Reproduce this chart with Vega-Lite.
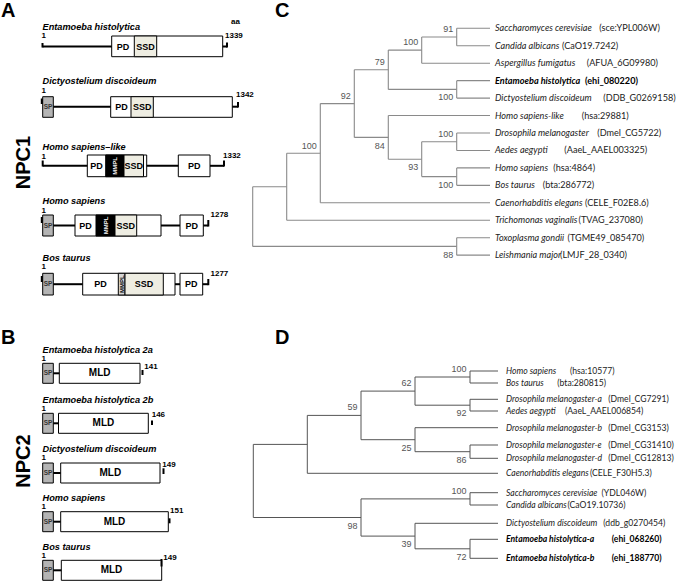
{
"$schema":"https://vega.github.io/schema/vega-lite/v6.json",
"width":687,"height":585,"autosize":{"type":"none"},"padding":0,"background":"#ffffff",
"config":{"view":{"stroke":null}},
"datasets":{
"seg":[
{"k":"p","x":42.5,"x2":111.7,"y":46.5,"y2":46.5},{"k":"p","x":42.5,"x2":42.5,"y":43,"y2":47.5},{"k":"p","x":222.7,"x2":227,"y":46.5,"y2":46.5},{"k":"p","x":227,"x2":227,"y":42.5,"y2":47.5},
{"k":"p","x":41.8,"x2":41.8,"y":98.5,"y2":104},{"k":"p","x":53.3,"x2":110.7,"y":106.7,"y2":106.7},{"k":"p","x":232.3,"x2":238,"y":106.7,"y2":106.7},{"k":"p","x":238,"x2":238,"y":102,"y2":107.5},
{"k":"p","x":42.7,"x2":42.7,"y":160.5,"y2":166.5},{"k":"p","x":42.7,"x2":87.3,"y":165.8,"y2":165.8},{"k":"p","x":146.7,"x2":178.3,"y":165.8,"y2":165.8},{"k":"p","x":210,"x2":224,"y":165.8,"y2":165.8},{"k":"p","x":224,"x2":224,"y":160.5,"y2":166.5},
{"k":"p","x":41.8,"x2":41.8,"y":217,"y2":223},{"k":"p","x":53.3,"x2":75,"y":225.5,"y2":225.5},{"k":"p","x":161,"x2":180,"y":225.5,"y2":225.5},{"k":"p","x":203.3,"x2":208.3,"y":225.5,"y2":225.5},{"k":"p","x":208.3,"x2":208.3,"y":220,"y2":226.5},
{"k":"p","x":41.8,"x2":41.8,"y":276,"y2":282},{"k":"p","x":53.3,"x2":82.7,"y":284.2,"y2":284.2},{"k":"p","x":175,"x2":180,"y":284.2,"y2":284.2},{"k":"p","x":202.7,"x2":208.3,"y":284.2,"y2":284.2},{"k":"p","x":208.3,"x2":208.3,"y":279,"y2":285.2},
{"k":"p","x":53.3,"x2":59.3,"y":373.3,"y2":373.3},{"k":"p","x":142.5,"x2":142.5,"y":370,"y2":375},
{"k":"p","x":53.3,"x2":58.5,"y":423.3,"y2":423.3},{"k":"p","x":152,"x2":152,"y":420.5,"y2":425},
{"k":"p","x":53.3,"x2":60.7,"y":473,"y2":473},{"k":"p","x":163.5,"x2":163.5,"y":468.3,"y2":474},
{"k":"p","x":53.3,"x2":60.7,"y":521.7,"y2":521.7},{"k":"p","x":169.5,"x2":169.5,"y":518.3,"y2":523.3},
{"k":"p","x":53.3,"x2":61.3,"y":570.3,"y2":570.3},{"k":"p","x":161.5,"x2":161.5,"y":559,"y2":566.5},
{"k":"c","x":456.7,"x2":456.7,"y":28.3,"y2":45.75},{"k":"c","x":421.7,"x2":421.7,"y":37.0,"y2":63.2},{"k":"c","x":456.7,"x2":456.7,"y":80.65,"y2":98.1},{"k":"c","x":388.3,"x2":388.3,"y":50.1,"y2":89.4},
{"k":"c","x":456.7,"x2":456.7,"y":133,"y2":150.45},{"k":"c","x":456.7,"x2":456.7,"y":167.9,"y2":185.35},{"k":"c","x":421.7,"x2":421.7,"y":141.7,"y2":176.6},{"k":"c","x":388.3,"x2":388.3,"y":115.55,"y2":159.2},
{"k":"c","x":354.3,"x2":354.3,"y":69.75,"y2":137.4},{"k":"c","x":320.3,"x2":320.3,"y":103.6,"y2":202.8},{"k":"c","x":286.7,"x2":286.7,"y":153.2,"y2":220.25},{"k":"c","x":456.7,"x2":456.7,"y":237.7,"y2":255.15},{"k":"c","x":252.7,"x2":252.7,"y":186.7,"y2":246.4},
{"k":"c","x":456.7,"x2":490,"y":28.3,"y2":28.3},{"k":"c","x":456.7,"x2":490,"y":45.75,"y2":45.75},{"k":"c","x":421.7,"x2":456.7,"y":37.0,"y2":37.0},{"k":"c","x":421.7,"x2":490,"y":63.2,"y2":63.2},
{"k":"c","x":456.7,"x2":490,"y":80.65,"y2":80.65},{"k":"c","x":456.7,"x2":490,"y":98.1,"y2":98.1},{"k":"c","x":388.3,"x2":421.7,"y":50.1,"y2":50.1},{"k":"c","x":388.3,"x2":456.7,"y":89.4,"y2":89.4},
{"k":"c","x":354.3,"x2":388.3,"y":69.75,"y2":69.75},{"k":"c","x":456.7,"x2":490,"y":133,"y2":133},{"k":"c","x":456.7,"x2":490,"y":150.45,"y2":150.45},{"k":"c","x":456.7,"x2":490,"y":167.9,"y2":167.9},
{"k":"c","x":456.7,"x2":490,"y":185.35,"y2":185.35},{"k":"c","x":421.7,"x2":456.7,"y":141.7,"y2":141.7},{"k":"c","x":421.7,"x2":456.7,"y":176.6,"y2":176.6},{"k":"c","x":388.3,"x2":490,"y":115.55,"y2":115.55},
{"k":"c","x":388.3,"x2":421.7,"y":159.2,"y2":159.2},{"k":"c","x":354.3,"x2":388.3,"y":137.4,"y2":137.4},{"k":"c","x":320.3,"x2":354.3,"y":103.6,"y2":103.6},{"k":"c","x":320.3,"x2":490,"y":202.8,"y2":202.8},
{"k":"c","x":286.7,"x2":320.3,"y":153.2,"y2":153.2},{"k":"c","x":286.7,"x2":490,"y":220.25,"y2":220.25},{"k":"c","x":252.7,"x2":286.7,"y":186.7,"y2":186.7},{"k":"c","x":252.7,"x2":456.7,"y":246.4,"y2":246.4},
{"k":"c","x":456.7,"x2":490,"y":237.7,"y2":237.7},{"k":"c","x":456.7,"x2":490,"y":255.15,"y2":255.15},
{"k":"d","x":470,"x2":470,"y":371,"y2":383},{"k":"d","x":470,"x2":470,"y":399.3,"y2":411},{"k":"d","x":415,"x2":415,"y":377,"y2":405.2},{"k":"d","x":470,"x2":470,"y":445,"y2":458.3},
{"k":"d","x":415,"x2":415,"y":427.7,"y2":451.7},{"k":"d","x":361,"x2":361,"y":391.1,"y2":439.7},{"k":"d","x":307.3,"x2":307.3,"y":415.4,"y2":473.3},{"k":"d","x":470,"x2":470,"y":492.7,"y2":505},
{"k":"d","x":470,"x2":470,"y":539.3,"y2":558.3},{"k":"d","x":415,"x2":415,"y":523.3,"y2":548.8},{"k":"d","x":361,"x2":361,"y":498.9,"y2":536.1},{"k":"d","x":253.3,"x2":253.3,"y":444.4,"y2":517.5},
{"k":"d","x":470,"x2":498,"y":371,"y2":371},{"k":"d","x":470,"x2":498,"y":383,"y2":383},{"k":"d","x":470,"x2":498,"y":399.3,"y2":399.3},{"k":"d","x":470,"x2":498,"y":411,"y2":411},
{"k":"d","x":415,"x2":470,"y":377,"y2":377},{"k":"d","x":415,"x2":470,"y":405.2,"y2":405.2},{"k":"d","x":361,"x2":415,"y":391.1,"y2":391.1},{"k":"d","x":415,"x2":498,"y":427.7,"y2":427.7},
{"k":"d","x":470,"x2":498,"y":445,"y2":445},{"k":"d","x":470,"x2":498,"y":458.3,"y2":458.3},{"k":"d","x":415,"x2":470,"y":451.7,"y2":451.7},{"k":"d","x":361,"x2":415,"y":439.7,"y2":439.7},
{"k":"d","x":307.3,"x2":361,"y":415.4,"y2":415.4},{"k":"d","x":307.3,"x2":498,"y":473.3,"y2":473.3},{"k":"d","x":253.3,"x2":307.3,"y":444.4,"y2":444.4},{"k":"d","x":470,"x2":498,"y":492.7,"y2":492.7},
{"k":"d","x":470,"x2":498,"y":505,"y2":505},{"k":"d","x":361,"x2":470,"y":498.9,"y2":498.9},{"k":"d","x":415,"x2":498,"y":523.3,"y2":523.3},{"k":"d","x":470,"x2":498,"y":539.3,"y2":539.3},
{"k":"d","x":470,"x2":498,"y":558.3,"y2":558.3},{"k":"d","x":415,"x2":470,"y":548.8,"y2":548.8},{"k":"d","x":361,"x2":415,"y":536.1,"y2":536.1},{"k":"d","x":253.3,"x2":361,"y":517.5,"y2":517.5}
],
"box":[
{"k":"w","x":111.7,"x2":222.7,"y":36,"y2":56.7},{"k":"ssd","x":134.3,"x2":156.7,"y":36,"y2":56.7},
{"k":"sp","x":42.7,"x2":53.3,"y":96.7,"y2":117.3},{"k":"w","x":110.7,"x2":232.3,"y":96.7,"y2":117.3},{"k":"ssd","x":131,"x2":153.3,"y":96.7,"y2":117.3},
{"k":"w","x":87.3,"x2":146.7,"y":155,"y2":176.7},{"k":"mm","x":105.7,"x2":124,"y":155,"y2":176.7},{"k":"ssd","x":124,"x2":143.5,"y":155,"y2":176.7},{"k":"w","x":178.3,"x2":210,"y":155,"y2":176.7},
{"k":"sp","x":42.7,"x2":53.3,"y":215,"y2":236},{"k":"w","x":75,"x2":161,"y":215,"y2":236},{"k":"mm","x":96,"x2":115,"y":215,"y2":236},{"k":"ssd","x":115,"x2":136.7,"y":215,"y2":236},{"k":"w","x":180,"x2":203.3,"y":215,"y2":236},
{"k":"sp","x":42.7,"x2":53.3,"y":273.3,"y2":295},{"k":"w","x":82.7,"x2":175,"y":273.3,"y2":295},{"k":"mh","x":118.3,"x2":125,"y":273.3,"y2":295},{"k":"ssd","x":125,"x2":163.3,"y":273.3,"y2":295},{"k":"w","x":180,"x2":202.7,"y":273.3,"y2":295},
{"k":"sp","x":42.7,"x2":53.3,"y":363.3,"y2":383.3},{"k":"w","x":59.3,"x2":140,"y":363.3,"y2":383.3},
{"k":"sp","x":42.7,"x2":53.3,"y":413.3,"y2":433.3},{"k":"w","x":58.5,"x2":148.3,"y":413.3,"y2":433.3},
{"k":"sp","x":42.7,"x2":53.3,"y":463,"y2":483},{"k":"w","x":60.7,"x2":160,"y":463,"y2":483},
{"k":"sp","x":42.7,"x2":53.3,"y":511.7,"y2":531.7},{"k":"w","x":60.7,"x2":168.3,"y":511.7,"y2":531.7},
{"k":"sp","x":42.7,"x2":53.3,"y":560.3,"y2":580.3},{"k":"w","x":61.3,"x2":161.7,"y":560.3,"y2":580.3}
],
"txt":[
{"k":"L","t":"A","x":1,"y":17.2},{"k":"L","t":"B","x":1,"y":343.5},{"k":"L","t":"C","x":275,"y":17.2},{"k":"L","t":"D","x":275,"y":344},
{"k":"N","t":"NPC1","x":24,"y":162.5},{"k":"N","t":"NPC2","x":24,"y":461},
{"k":"T","t":"Entamoeba  histolytica","x":42.5,"y":26.7},{"k":"T","t":"Dictyostelium  discoideum","x":42.5,"y":81.2},{"k":"T","t":"Homo sapiens–like","x":42.5,"y":146.7},{"k":"T","t":"Homo sapiens","x":42.5,"y":201},{"k":"T","t":"Bos taurus","x":42.5,"y":258},
{"k":"T","t":"Entamoeba  histolytica  2a","x":42.5,"y":349.8},{"k":"T","t":"Entamoeba  histolytica  2b","x":42.5,"y":399.6},{"k":"T","t":"Dictyostelium  discoideum","x":42.5,"y":449.2},{"k":"T","t":"Homo sapiens","x":42.5,"y":498},{"k":"T","t":"Bos taurus","x":42.5,"y":546.7},
{"k":"n","t":"aa","x":231,"y":21.7},{"k":"n","t":"1","x":41.5,"y":36},{"k":"n","t":"1339","x":225,"y":36},{"k":"n","t":"1","x":41.5,"y":90.8},{"k":"n","t":"1342","x":236,"y":95},
{"k":"n","t":"1","x":41.5,"y":156.7},{"k":"n","t":"1332","x":223,"y":156},{"k":"n","t":"1","x":41.5,"y":210.6},{"k":"n","t":"1278","x":210.5,"y":215},{"k":"n","t":"1","x":41.5,"y":267},{"k":"n","t":"1277","x":210.5,"y":274},
{"k":"n","t":"1","x":41.5,"y":358.8},{"k":"n","t":"141","x":144.3,"y":366.7},{"k":"n","t":"1","x":41.5,"y":408.8},{"k":"n","t":"146","x":151.7,"y":415},{"k":"n","t":"1","x":41.5,"y":458.4},{"k":"n","t":"149","x":162.3,"y":465},
{"k":"n","t":"1","x":41.5,"y":507.2},{"k":"n","t":"151","x":170,"y":510.7},{"k":"n","t":"1","x":41.5,"y":555.8},{"k":"n","t":"149","x":163.3,"y":558.3},
{"k":"d","t":"PD","x":123,"y":46.5},{"k":"d","t":"SSD","x":145.5,"y":46.5},{"k":"d","t":"PD","x":121.5,"y":106.7},{"k":"d","t":"SSD","x":142.2,"y":106.7},
{"k":"d","t":"PD","x":96.5,"y":165.8},{"k":"d","t":"SSD","x":133.8,"y":165.8},{"k":"d","t":"PD","x":194.2,"y":165.8},
{"k":"d","t":"PD","x":85.5,"y":225.5},{"k":"d","t":"SSD","x":125.8,"y":225.5},{"k":"d","t":"PD","x":191.7,"y":225.5},
{"k":"d","t":"PD","x":100.5,"y":284.2},{"k":"d","t":"SSD","x":144,"y":284.2},{"k":"d","t":"PD","x":191.3,"y":284.2},
{"k":"M","t":"MLD","x":99.7,"y":373.3},{"k":"M","t":"MLD","x":103.4,"y":423.3},{"k":"M","t":"MLD","x":110.3,"y":473},{"k":"M","t":"MLD","x":114.5,"y":521.7},{"k":"M","t":"MLD","x":111.5,"y":570.3},
{"k":"s","t":"SP","x":48,"y":106.7},{"k":"s","t":"SP","x":48,"y":225.5},{"k":"s","t":"SP","x":48,"y":284.2},{"k":"s","t":"SP","x":48,"y":373.3},{"k":"s","t":"SP","x":48,"y":423.3},{"k":"s","t":"SP","x":48,"y":473},{"k":"s","t":"SP","x":48,"y":521.7},{"k":"s","t":"SP","x":48,"y":570.3},
{"k":"mw","t":"MMPL","x":115,"y":165.8},{"k":"mw","t":"MMPL","x":105.5,"y":225.5},{"k":"mb","t":"MMPL","x":121.7,"y":284.2},
{"k":"bc","t":"91","x":453.2,"y":28.7},{"k":"bc","t":"100","x":418.2,"y":42},{"k":"bc","t":"79","x":384.8,"y":61.7},{"k":"bc","t":"100","x":453.2,"y":97.4},{"k":"bc","t":"92","x":350.8,"y":95.6},{"k":"bc","t":"100","x":316.8,"y":145.5},
{"k":"bc","t":"84","x":384.8,"y":145.5},{"k":"bc","t":"100","x":453.2,"y":133.7},{"k":"bc","t":"93","x":418.2,"y":167},{"k":"bc","t":"100","x":453.2,"y":184.5},{"k":"bc","t":"88","x":453.2,"y":254.5},
{"k":"bd","t":"100","x":466.5,"y":369},{"k":"bd","t":"62","x":411.5,"y":383.1},{"k":"bd","t":"92","x":466.5,"y":413.2},{"k":"bd","t":"59","x":357.5,"y":407.4},{"k":"bd","t":"25","x":411.5,"y":447.7},
{"k":"bd","t":"86","x":466.5,"y":459.7},{"k":"bd","t":"100","x":466.5,"y":490.9},{"k":"bd","t":"98","x":357.5,"y":525.5},{"k":"bd","t":"39","x":411.5,"y":544.1},{"k":"bd","t":"72","x":466.5,"y":556.8},
{"k":"si","t":"Saccharomyces cerevisiae","x":495,"y":28.3},{"k":"id","t":"(sce:YPL006W)","x":599.3,"y":28.3},
{"k":"si","t":"Candida albicans","x":495,"y":45.75},{"k":"id","t":"(CaO19.7242)","x":562,"y":45.75},
{"k":"si","t":"Aspergillus fumigatus","x":495,"y":63.2},{"k":"id","t":"(AFUA_6G09980)","x":586.7,"y":63.2},
{"k":"sb","t":"Entamoeba histolytica","x":495,"y":80.65},{"k":"ib","t":"(ehi_080220)","x":585,"y":80.65},
{"k":"si","t":"Dictyostelium discoideum","x":495,"y":98.1},{"k":"id","t":"(DDB_G0269158)","x":603.3,"y":98.1},
{"k":"si","t":"Homo sapiens-like","x":495,"y":115.55},{"k":"id","t":"(hsa:29881)","x":581.7,"y":115.55},
{"k":"si","t":"Drosophila melanogaster","x":495,"y":133},{"k":"id","t":"(Dmel_CG5722)","x":597.3,"y":133},
{"k":"si","t":"Aedes aegypti","x":495,"y":150.45},{"k":"id","t":"(AaeL_AAEL003325)","x":564.3,"y":150.45},
{"k":"si","t":"Homo sapiens","x":495,"y":167.9},{"k":"id","t":"(hsa:4864)","x":553.3,"y":167.9},
{"k":"si","t":"Bos taurus","x":495,"y":185.35},{"k":"id","t":"(bta:286772)","x":542.7,"y":185.35},
{"k":"si","t":"Caenorhabditis elegans","x":495,"y":202.8},{"k":"id","t":"(CELE_F02E8.6)","x":585,"y":202.8},
{"k":"si","t":"Trichomonas vaginalis","x":495,"y":220.25},{"k":"id","t":"(TVAG_237080)","x":578.5,"y":220.25},
{"k":"si","t":"Toxoplasma gondii","x":495,"y":237.7},{"k":"id","t":"(TGME49_085470)","x":567.5,"y":237.7},
{"k":"si","t":"Leishmania major","x":495,"y":255.15},{"k":"id","t":"(LMJF_28_0340)","x":560,"y":255.15},
{"k":"si2","t":"Homo sapiens","x":506,"y":371},{"k":"id2","t":"(hsa:10577)","x":570,"y":371},
{"k":"si2","t":"Bos taurus","x":506,"y":383},{"k":"id2","t":"(bta:280815)","x":557.3,"y":383},
{"k":"si2","t":"Drosophila melanogaster-a","x":506,"y":399.3},{"k":"id2","t":"(Dmel_CG7291)","x":608.3,"y":399.3},
{"k":"si2","t":"Aedes aegypti","x":506,"y":411},{"k":"id2","t":"(AaeL_AAEL006854)","x":565,"y":411},
{"k":"si2","t":"Drosophila melanogaster-b","x":506,"y":427.7},{"k":"id2","t":"(Dmel_CG3153)","x":608.3,"y":427.7},
{"k":"si2","t":"Drosophila melanogaster-e","x":506,"y":445},{"k":"id2","t":"(Dmel_CG31410)","x":608.3,"y":445},
{"k":"si2","t":"Drosophila melanogaster-d","x":506,"y":458.3},{"k":"id2","t":"(Dmel_CG12813)","x":608.3,"y":458.3},
{"k":"si2","t":"Caenorhabditis elegans","x":506,"y":473.3},{"k":"id2","t":"(CELE_F30H5.3)","x":590,"y":473.3},
{"k":"si2","t":"Saccharomyces cerevisiae","x":506,"y":492.7},{"k":"id2","t":"(YDL046W)","x":601.5,"y":492.7},
{"k":"si2","t":"Candida albicans","x":506,"y":505},{"k":"id2","t":"(CaO19.10736)","x":567.5,"y":505},
{"k":"si2","t":"Dictyostelium discoideum","x":506,"y":523.3},{"k":"id2","t":"(ddb_g0270454)","x":603.3,"y":523.3},
{"k":"sb2","t":"Entamoeba histolytica-a","x":506,"y":539.3},{"k":"ib2","t":"(ehi_068260)","x":611.7,"y":539.3},
{"k":"sb2","t":"Entamoeba histolytica-b","x":506,"y":558.3},{"k":"ib2","t":"(ehi_188770)","x":611.7,"y":558.3}
]
},
"layer":[
{"data":{"name":"box"},"mark":{"type":"rect","stroke":"#000000","strokeWidth":1},
 "encoding":{"x":{"field":"x","type":"quantitative","scale":{"domain":[0,687],"nice":false,"zero":false},"axis":null},"x2":{"field":"x2"},
 "y":{"field":"y","type":"quantitative","scale":{"domain":[0,585],"reverse":true,"nice":false,"zero":false},"axis":null},"y2":{"field":"y2"},
 "fill":{"field":"k","type":"nominal","scale":{"domain":["w","ssd","sp","mm","mh"],"range":["#ffffff","#eeede2","#b4b4b4","#000000","#d6d6d6"]},"legend":null}}},
{"data":{"name":"seg"},"transform":[{"filter":"datum.k==='p'"}],"mark":{"type":"rule","color":"#000000","strokeWidth":2},
 "encoding":{"x":{"field":"x","type":"quantitative","scale":{"domain":[0,687],"nice":false,"zero":false},"axis":null},"x2":{"field":"x2"},"y":{"field":"y","type":"quantitative","scale":{"domain":[0,585],"reverse":true,"nice":false,"zero":false},"axis":null},"y2":{"field":"y2"}}},
{"data":{"name":"seg"},"transform":[{"filter":"datum.k==='c'"}],"mark":{"type":"rule","color":"#8a8a8a","strokeWidth":1.1},
 "encoding":{"x":{"field":"x","type":"quantitative","scale":{"domain":[0,687],"nice":false,"zero":false},"axis":null},"x2":{"field":"x2"},"y":{"field":"y","type":"quantitative","scale":{"domain":[0,585],"reverse":true,"nice":false,"zero":false},"axis":null},"y2":{"field":"y2"}}},
{"data":{"name":"seg"},"transform":[{"filter":"datum.k==='d'"}],"mark":{"type":"rule","color":"#555555","strokeWidth":1},
 "encoding":{"x":{"field":"x","type":"quantitative","scale":{"domain":[0,687],"nice":false,"zero":false},"axis":null},"x2":{"field":"x2"},"y":{"field":"y","type":"quantitative","scale":{"domain":[0,585],"reverse":true,"nice":false,"zero":false},"axis":null},"y2":{"field":"y2"}}},
{"data":{"name":"txt"},"transform":[{"filter":"datum.k==='L'"}],"mark":{"type":"text","font":"Liberation Sans","fontWeight":"bold","fontSize":20,"align":"left","baseline":"alphabetic","color":"#000000"},
 "encoding":{"x":{"field":"x","type":"quantitative","scale":{"domain":[0,687],"nice":false,"zero":false},"axis":null},"y":{"field":"y","type":"quantitative","scale":{"domain":[0,585],"reverse":true,"nice":false,"zero":false},"axis":null},"text":{"field":"t"}}},
{"data":{"name":"txt"},"transform":[{"filter":"datum.k==='N'"}],"mark":{"type":"text","font":"Liberation Sans","fontWeight":"bold","fontSize":20,"angle":270,"align":"center","baseline":"middle","color":"#000000"},
 "encoding":{"x":{"field":"x","type":"quantitative","scale":{"domain":[0,687],"nice":false,"zero":false},"axis":null},"y":{"field":"y","type":"quantitative","scale":{"domain":[0,585],"reverse":true,"nice":false,"zero":false},"axis":null},"text":{"field":"t"}}},
{"data":{"name":"txt"},"transform":[{"filter":"datum.k==='T'"}],"mark":{"type":"text","font":"Liberation Sans","fontWeight":"bold","fontStyle":"italic","fontSize":9.2,"align":"left","baseline":"middle","color":"#000000"},
 "encoding":{"x":{"field":"x","type":"quantitative","scale":{"domain":[0,687],"nice":false,"zero":false},"axis":null},"y":{"field":"y","type":"quantitative","scale":{"domain":[0,585],"reverse":true,"nice":false,"zero":false},"axis":null},"text":{"field":"t"}}},
{"data":{"name":"txt"},"transform":[{"filter":"datum.k==='n'"}],"mark":{"type":"text","font":"Liberation Sans","fontWeight":"bold","fontSize":8,"align":"left","baseline":"middle","color":"#000000"},
 "encoding":{"x":{"field":"x","type":"quantitative","scale":{"domain":[0,687],"nice":false,"zero":false},"axis":null},"y":{"field":"y","type":"quantitative","scale":{"domain":[0,585],"reverse":true,"nice":false,"zero":false},"axis":null},"text":{"field":"t"}}},
{"data":{"name":"txt"},"transform":[{"filter":"datum.k==='d'"}],"mark":{"type":"text","font":"Liberation Sans","fontWeight":"bold","fontSize":9,"align":"center","baseline":"middle","color":"#000000"},
 "encoding":{"x":{"field":"x","type":"quantitative","scale":{"domain":[0,687],"nice":false,"zero":false},"axis":null},"y":{"field":"y","type":"quantitative","scale":{"domain":[0,585],"reverse":true,"nice":false,"zero":false},"axis":null},"text":{"field":"t"}}},
{"data":{"name":"txt"},"transform":[{"filter":"datum.k==='M'"}],"mark":{"type":"text","font":"Liberation Sans","fontWeight":"bold","fontSize":10,"align":"center","baseline":"middle","color":"#000000"},
 "encoding":{"x":{"field":"x","type":"quantitative","scale":{"domain":[0,687],"nice":false,"zero":false},"axis":null},"y":{"field":"y","type":"quantitative","scale":{"domain":[0,585],"reverse":true,"nice":false,"zero":false},"axis":null},"text":{"field":"t"}}},
{"data":{"name":"txt"},"transform":[{"filter":"datum.k==='s'"}],"mark":{"type":"text","font":"Liberation Sans","fontWeight":"bold","fontSize":6.5,"align":"center","baseline":"middle","color":"#333333"},
 "encoding":{"x":{"field":"x","type":"quantitative","scale":{"domain":[0,687],"nice":false,"zero":false},"axis":null},"y":{"field":"y","type":"quantitative","scale":{"domain":[0,585],"reverse":true,"nice":false,"zero":false},"axis":null},"text":{"field":"t"}}},
{"data":{"name":"txt"},"transform":[{"filter":"datum.k==='mw'"}],"mark":{"type":"text","font":"Liberation Sans","fontWeight":"bold","fontSize":6,"angle":270,"align":"center","baseline":"middle","color":"#ffffff"},
 "encoding":{"x":{"field":"x","type":"quantitative","scale":{"domain":[0,687],"nice":false,"zero":false},"axis":null},"y":{"field":"y","type":"quantitative","scale":{"domain":[0,585],"reverse":true,"nice":false,"zero":false},"axis":null},"text":{"field":"t"}}},
{"data":{"name":"txt"},"transform":[{"filter":"datum.k==='mb'"}],"mark":{"type":"text","font":"Liberation Sans","fontWeight":"bold","fontSize":6,"angle":270,"align":"center","baseline":"middle","color":"#000000"},
 "encoding":{"x":{"field":"x","type":"quantitative","scale":{"domain":[0,687],"nice":false,"zero":false},"axis":null},"y":{"field":"y","type":"quantitative","scale":{"domain":[0,585],"reverse":true,"nice":false,"zero":false},"axis":null},"text":{"field":"t"}}},
{"data":{"name":"txt"},"transform":[{"filter":"datum.k==='bc' || datum.k==='bd'"}],"mark":{"type":"text","font":"Liberation Sans Narrow, Liberation Sans","fontSize":9,"align":"right","baseline":"middle","color":"#555555"},
 "encoding":{"x":{"field":"x","type":"quantitative","scale":{"domain":[0,687],"nice":false,"zero":false},"axis":null},"y":{"field":"y","type":"quantitative","scale":{"domain":[0,585],"reverse":true,"nice":false,"zero":false},"axis":null},"text":{"field":"t"}}},
{"data":{"name":"txt"},"transform":[{"filter":"datum.k==='si'"}],"mark":{"type":"text","font":"Lato","fontStyle":"italic","fontSize":9.1,"align":"left","baseline":"middle","color":"#222222"},
 "encoding":{"x":{"field":"x","type":"quantitative","scale":{"domain":[0,687],"nice":false,"zero":false},"axis":null},"y":{"field":"y","type":"quantitative","scale":{"domain":[0,585],"reverse":true,"nice":false,"zero":false},"axis":null},"text":{"field":"t"}}},
{"data":{"name":"txt"},"transform":[{"filter":"datum.k==='id'"}],"mark":{"type":"text","font":"Lato","fontSize":9.1,"align":"left","baseline":"middle","color":"#222222"},
 "encoding":{"x":{"field":"x","type":"quantitative","scale":{"domain":[0,687],"nice":false,"zero":false},"axis":null},"y":{"field":"y","type":"quantitative","scale":{"domain":[0,585],"reverse":true,"nice":false,"zero":false},"axis":null},"text":{"field":"t"}}},
{"data":{"name":"txt"},"transform":[{"filter":"datum.k==='sb'"}],"mark":{"type":"text","font":"Lato","fontStyle":"italic","fontWeight":"bold","fontSize":9.1,"align":"left","baseline":"middle","color":"#000000"},
 "encoding":{"x":{"field":"x","type":"quantitative","scale":{"domain":[0,687],"nice":false,"zero":false},"axis":null},"y":{"field":"y","type":"quantitative","scale":{"domain":[0,585],"reverse":true,"nice":false,"zero":false},"axis":null},"text":{"field":"t"}}},
{"data":{"name":"txt"},"transform":[{"filter":"datum.k==='ib'"}],"mark":{"type":"text","font":"Lato","fontWeight":"bold","fontSize":9.1,"align":"left","baseline":"middle","color":"#000000"},
 "encoding":{"x":{"field":"x","type":"quantitative","scale":{"domain":[0,687],"nice":false,"zero":false},"axis":null},"y":{"field":"y","type":"quantitative","scale":{"domain":[0,585],"reverse":true,"nice":false,"zero":false},"axis":null},"text":{"field":"t"}}},
{"data":{"name":"txt"},"transform":[{"filter":"datum.k==='si2'"}],"mark":{"type":"text","font":"Lato","fontStyle":"italic","fontSize":8.6,"align":"left","baseline":"middle","color":"#222222"},
 "encoding":{"x":{"field":"x","type":"quantitative","scale":{"domain":[0,687],"nice":false,"zero":false},"axis":null},"y":{"field":"y","type":"quantitative","scale":{"domain":[0,585],"reverse":true,"nice":false,"zero":false},"axis":null},"text":{"field":"t"}}},
{"data":{"name":"txt"},"transform":[{"filter":"datum.k==='id2'"}],"mark":{"type":"text","font":"Lato","fontSize":8.6,"align":"left","baseline":"middle","color":"#222222"},
 "encoding":{"x":{"field":"x","type":"quantitative","scale":{"domain":[0,687],"nice":false,"zero":false},"axis":null},"y":{"field":"y","type":"quantitative","scale":{"domain":[0,585],"reverse":true,"nice":false,"zero":false},"axis":null},"text":{"field":"t"}}},
{"data":{"name":"txt"},"transform":[{"filter":"datum.k==='sb2'"}],"mark":{"type":"text","font":"Lato","fontStyle":"italic","fontWeight":"bold","fontSize":8.6,"align":"left","baseline":"middle","color":"#000000"},
 "encoding":{"x":{"field":"x","type":"quantitative","scale":{"domain":[0,687],"nice":false,"zero":false},"axis":null},"y":{"field":"y","type":"quantitative","scale":{"domain":[0,585],"reverse":true,"nice":false,"zero":false},"axis":null},"text":{"field":"t"}}},
{"data":{"name":"txt"},"transform":[{"filter":"datum.k==='ib2'"}],"mark":{"type":"text","font":"Lato","fontWeight":"bold","fontSize":8.6,"align":"left","baseline":"middle","color":"#000000"},
 "encoding":{"x":{"field":"x","type":"quantitative","scale":{"domain":[0,687],"nice":false,"zero":false},"axis":null},"y":{"field":"y","type":"quantitative","scale":{"domain":[0,585],"reverse":true,"nice":false,"zero":false},"axis":null},"text":{"field":"t"}}}
]
}
